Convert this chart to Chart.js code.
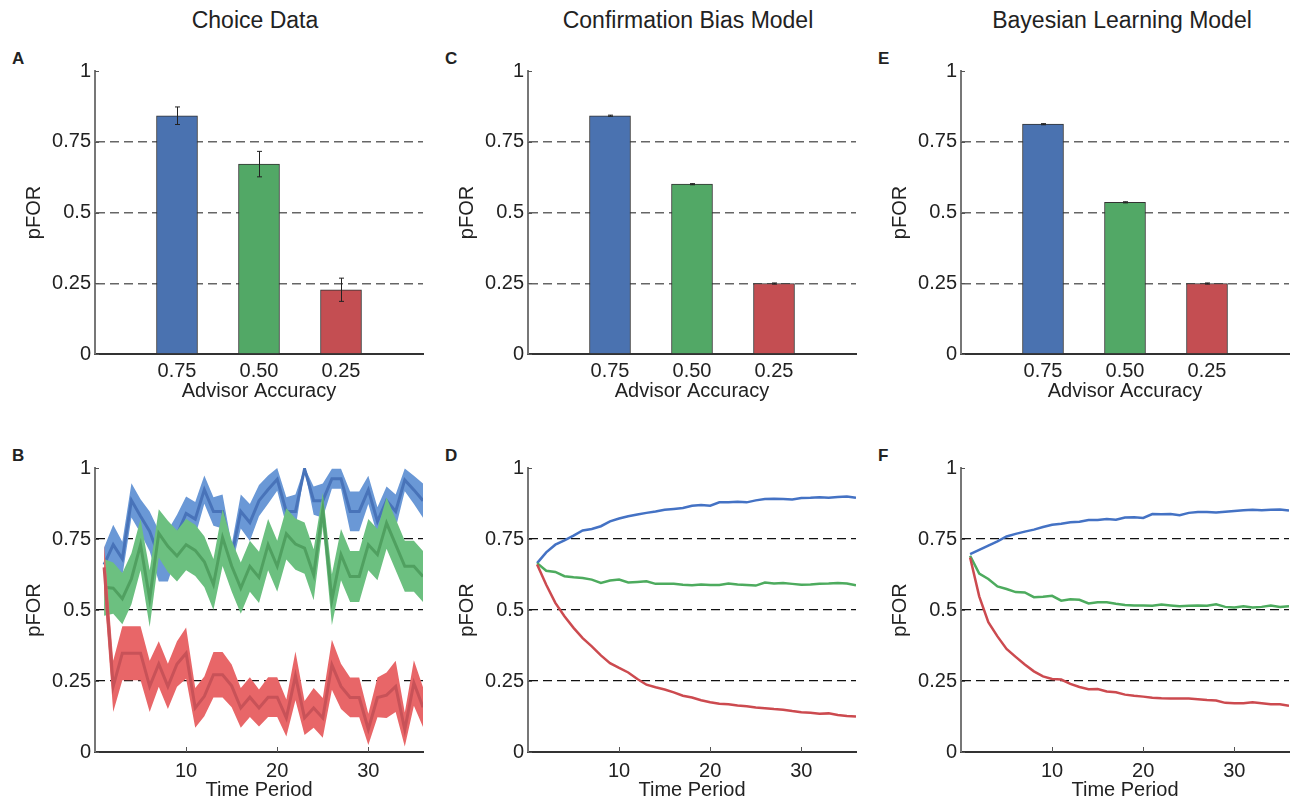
<!DOCTYPE html>
<html>
<head>
<meta charset="utf-8">
<script src="https://cdn.jsdelivr.net/npm/chart.js@4.4.1/dist/chart.umd.min.js"></script>
<style>
  body { margin: 0; background: #fff; width: 1297px; height: 801px; position: relative; overflow: hidden;
         font-family: "Liberation Sans", Arial, Helvetica, sans-serif; color: #222; }
  canvas { position: absolute; }
  .title { position: absolute; top: 7px; width: 360px; text-align: center; font-size: 23px; line-height: 26px; }
  .tag { position: absolute; font-size: 17px; font-weight: bold; line-height: 20px; }
</style>
</head>
<body>
<div class="title" style="left:75px">Choice Data</div>
<div class="title" style="left:508px">Confirmation Bias Model</div>
<div class="title" style="left:942px">Bayesian Learning Model</div>
<div class="tag" style="left:12px;top:49px">A</div>
<div class="tag" style="left:12px;top:446px">B</div>
<div class="tag" style="left:445px;top:49px">C</div>
<div class="tag" style="left:445px;top:446px">D</div>
<div class="tag" style="left:878px;top:49px">E</div>
<div class="tag" style="left:878px;top:446px">F</div>

<canvas id="pA" width="429" height="353"></canvas>
<canvas id="pC" width="429" height="353"></canvas>
<canvas id="pE" width="429" height="353"></canvas>
<canvas id="pB" width="429" height="354"></canvas>
<canvas id="pD" width="429" height="354"></canvas>
<canvas id="pF" width="429" height="354"></canvas>

<script>
// ---- data ----
const accuracyLabels = ['0.75', '0.50', '0.25'];
const choiceBars = [0.842, 0.671, 0.227];
const choiceErr = [0.031, 0.045, 0.041];
const confirmBars = [0.842, 0.600, 0.249];
const confirmErr = [0.002, 0.002, 0.002];
const bayesBars = [0.812, 0.536, 0.249];
const bayesErr = [0.002, 0.002, 0.002];

const yTickValues = [0, 0.25, 0.5, 0.75, 1];
const yTickLabels = ['0', '0.25', '0.5', '0.75', '1'];
const timeTicks = [10, 20, 30];

const periods = [1, 2, 3, 4, 5, 6, 7, 8, 9, 10, 11, 12, 13, 14, 15, 16, 17, 18,
                 19, 20, 21, 22, 23, 24, 25, 26, 27, 28, 29, 30, 31, 32, 33, 34, 35, 36];

// choice data over time: mean and s.e.m.
const choiceHigh = [0.66, 0.73, 0.68, 0.886, 0.83, 0.777, 0.69, 0.69, 0.765, 0.84, 0.82, 0.924,
                    0.847, 0.847, 0.69, 0.847, 0.808, 0.885, 0.924, 0.96, 0.847, 0.847, 0.997, 0.885,
                    0.885, 0.962, 0.962, 0.847, 0.847, 0.923, 0.812, 0.885, 0.847, 0.958, 0.923, 0.885];
const choiceHighSem = [0.06, 0.07, 0.06, 0.06, 0.06, 0.07, 0.09, 0.09, 0.07, 0.06, 0.06, 0.05,
                       0.05, 0.06, 0.04, 0.06, 0.065, 0.055, 0.05, 0.04, 0.05, 0.06, 0.005, 0.05,
                       0.06, 0.035, 0.035, 0.07, 0.07, 0.05, 0.05, 0.05, 0.06, 0.04, 0.05, 0.06];
const choiceMid = [0.58, 0.577, 0.54, 0.61, 0.73, 0.54, 0.77, 0.724, 0.69, 0.73, 0.71, 0.67,
                   0.59, 0.755, 0.655, 0.577, 0.654, 0.615, 0.73, 0.654, 0.768, 0.732, 0.718, 0.624,
                   0.853, 0.536, 0.695, 0.618, 0.618, 0.73, 0.695, 0.806, 0.73, 0.654, 0.654, 0.618];
const choiceMidSem = [0.1, 0.09, 0.09, 0.09, 0.09, 0.1, 0.085, 0.09, 0.09, 0.09, 0.09, 0.09,
                      0.09, 0.1, 0.09, 0.09, 0.09, 0.09, 0.09, 0.09, 0.09, 0.09, 0.09, 0.09,
                      0.06, 0.09, 0.09, 0.09, 0.09, 0.09, 0.09, 0.09, 0.09, 0.09, 0.09, 0.09];
const choiceLow = [0.65, 0.231, 0.348, 0.348, 0.348, 0.231, 0.31, 0.231, 0.31, 0.348, 0.155, 0.196,
                   0.272, 0.272, 0.233, 0.155, 0.193, 0.155, 0.193, 0.193, 0.12, 0.268, 0.12, 0.155,
                   0.12, 0.307, 0.231, 0.192, 0.192, 0.08, 0.192, 0.2, 0.231, 0.079, 0.243, 0.158];
const choiceLowSem = [0.08, 0.09, 0.095, 0.095, 0.095, 0.09, 0.08, 0.08, 0.08, 0.09, 0.07, 0.07,
                      0.08, 0.08, 0.075, 0.07, 0.07, 0.065, 0.07, 0.07, 0.065, 0.086, 0.06, 0.07,
                      0.07, 0.088, 0.08, 0.07, 0.07, 0.055, 0.07, 0.08, 0.09, 0.06, 0.08, 0.07];

// confirmation bias model
const confirmHigh = [0.665, 0.703, 0.73, 0.745, 0.762, 0.78, 0.785, 0.795, 0.812, 0.822, 0.83, 0.836,
                     0.842, 0.847, 0.853, 0.856, 0.859, 0.867, 0.87, 0.867, 0.879, 0.879, 0.881, 0.879,
                     0.886, 0.891, 0.892, 0.891, 0.889, 0.894, 0.895, 0.897, 0.895, 0.898, 0.9, 0.895];
const confirmMid = [0.665, 0.638, 0.634, 0.619, 0.615, 0.613, 0.607, 0.595, 0.604, 0.607, 0.597, 0.599,
                    0.601, 0.592, 0.592, 0.592, 0.589, 0.587, 0.59, 0.588, 0.588, 0.593, 0.59, 0.588,
                    0.586, 0.597, 0.593, 0.595, 0.592, 0.589, 0.59, 0.592, 0.593, 0.595, 0.593, 0.587];
const confirmLow = [0.66, 0.589, 0.525, 0.478, 0.437, 0.401, 0.372, 0.34, 0.313, 0.296, 0.28, 0.257,
                    0.237, 0.228, 0.22, 0.21, 0.198, 0.192, 0.182, 0.175, 0.17, 0.168, 0.164, 0.161,
                    0.157, 0.154, 0.151, 0.149, 0.144, 0.14, 0.138, 0.135, 0.136, 0.13, 0.127, 0.125];

// bayesian learning model
const bayesHigh = [0.697, 0.712, 0.727, 0.742, 0.759, 0.768, 0.776, 0.783, 0.792, 0.8, 0.804, 0.809,
                   0.811, 0.817, 0.817, 0.82, 0.818, 0.826, 0.827, 0.824, 0.838, 0.837, 0.838, 0.834,
                   0.842, 0.845, 0.845, 0.843, 0.846, 0.849, 0.851, 0.853, 0.851, 0.853, 0.854, 0.85];
const bayesMid = [0.691, 0.628, 0.609, 0.583, 0.574, 0.563, 0.562, 0.545, 0.547, 0.55, 0.533, 0.538,
                  0.536, 0.523, 0.527, 0.527, 0.522, 0.518, 0.516, 0.516, 0.515, 0.519, 0.516, 0.513,
                  0.515, 0.516, 0.515, 0.52, 0.511, 0.509, 0.513, 0.509, 0.511, 0.516, 0.511, 0.513];
const bayesLow = [0.685, 0.548, 0.457, 0.407, 0.363, 0.335, 0.308, 0.284, 0.266, 0.257, 0.255, 0.24,
                  0.229, 0.221, 0.222, 0.213, 0.21, 0.202, 0.198, 0.195, 0.191, 0.189, 0.188, 0.188,
                  0.188, 0.186, 0.183, 0.181, 0.173, 0.172, 0.172, 0.175, 0.172, 0.168, 0.168, 0.163];

// ---- styling ----
const FONT = '"Liberation Sans", Arial, Helvetica, sans-serif';
Chart.defaults.font.family = FONT;
Chart.defaults.color = '#222';

const barColors = ['#4A72B0', '#52A866', '#C44E52'];
const lineColors = { high: '#4472C4', mid: '#4DAB5E', low: '#CC4A4F' };
const bandColors = { high: 'rgb(106,152,214)', mid: 'rgb(108,192,128)', low: 'rgb(232,102,104)' };
const meanColors = { high: 'rgb(72,115,185)', mid: 'rgb(80,160,96)', low: 'rgb(200,82,88)' };

const colLeft = [95, 528, 961];
const plotW = 328;
const rows = { top: { y: 71, h: 283 }, bottom: { y: 468, h: 284 } };

// inward tick marks on the axes
const inwardTicks = {
  id: 'inwardTicks',
  afterDraw(chart, args, opts) {
    const { ctx, chartArea } = chart;
    ctx.save();
    ctx.strokeStyle = '#555';
    ctx.lineWidth = 1;
    const ys = chart.scales.y;
    ys.ticks.forEach(t => {
      const py = Math.round(ys.getPixelForValue(t.value)) + 0.5;
      ctx.beginPath();
      ctx.moveTo(chartArea.left, py);
      ctx.lineTo(chartArea.left + 4, py);
      ctx.stroke();
    });
    if (opts.x) {
      const xs = chart.scales.x;
      xs.ticks.forEach(t => {
        const px = Math.round(xs.getPixelForValue(t.value)) + 0.5;
        ctx.beginPath();
        ctx.moveTo(px, chartArea.bottom);
        ctx.lineTo(px, chartArea.bottom - 5);
        ctx.stroke();
      });
    }
    ctx.restore();
  }
};

// error bars on the bar panels
const errorBars = {
  id: 'errorBars',
  afterDatasetsDraw(chart, args, opts) {
    if (!opts.values) return;
    const ys = chart.scales.y;
    const meta = chart.getDatasetMeta(0);
    const data = chart.data.datasets[0].data;
    const ctx = chart.ctx;
    ctx.save();
    ctx.strokeStyle = '#222';
    ctx.lineWidth = 1;
    meta.data.forEach((bar, i) => {
      const e = opts.values[i];
      if (e == null || data[i] == null) return;
      const x = Math.round(bar.x) + 0.5;
      const y1 = ys.getPixelForValue(data[i] + e);
      const y2 = ys.getPixelForValue(data[i] - e);
      ctx.beginPath();
      ctx.moveTo(x, y1); ctx.lineTo(x, y2);
      ctx.moveTo(x - 2.5, y1); ctx.lineTo(x + 2.5, y1);
      ctx.moveTo(x - 2.5, y2); ctx.lineTo(x + 2.5, y2);
      ctx.stroke();
    });
    ctx.restore();
  }
};

function yScale(gridColor, gridWidth, borderColor) {
  return {
    min: 0, max: 1, z: 1,
    afterFit: s => { s.width = 95; },
    afterBuildTicks: s => { s.ticks = yTickValues.map(v => ({ value: v })); },
    ticks: {
      callback: v => yTickLabels[yTickValues.indexOf(v)],
      font: { size: 20 }, color: '#222', padding: 4
    },
    grid: {
      drawTicks: false,
      color: c => (c.tick && c.tick.value > 0 && c.tick.value < 1) ? gridColor : 'rgba(0,0,0,0)',
      lineWidth: gridWidth
    },
    border: { color: borderColor, width: 2, dash: [9, 5] },
    title: { display: true, text: 'pFOR', font: { size: 20 }, color: '#222', padding: { top: 22, bottom: 0 } }
  };
}

function place(id, col, row) {
  const el = document.getElementById(id);
  el.style.left = (colLeft[col] - 95) + 'px';
  el.style.top = (rows[row].y - 20) + 'px';
  el.width = 95 + plotW + 6;
  el.height = 20 + rows[row].h + 50;
  return el;
}

function barPanel(id, col, values, errs) {
  const el = place(id, col, 'top');
  new Chart(el, {
    type: 'bar',
    data: {
      labels: ['', ...accuracyLabels, ''],
      datasets: [{
        data: [null, ...values, null],
        backgroundColor: ['rgba(0,0,0,0)', ...barColors, 'rgba(0,0,0,0)'],
        borderColor: '#333',
        borderWidth: 1,
        barThickness: 41
      }]
    },
    options: {
      responsive: false, animation: false, devicePixelRatio: 1,
      layout: { padding: { top: 20, right: 6, left: 0, bottom: 0 } },
      plugins: { legend: { display: false }, tooltip: { enabled: false },
                 errorBars: { values: [null, ...errs, null] }, inwardTicks: { x: false } },
      scales: {
        x: {
          type: 'category', offset: false,
          afterFit: s => { s.height = 50; },
          grid: { display: false, drawTicks: false },
          border: { color: '#333', width: 2 },
          ticks: { font: { size: 20 }, color: '#222', padding: 5, autoSkip: false, maxRotation: 0 },
          title: { display: true, text: 'Advisor Accuracy', font: { size: 20 }, color: '#222', padding: { top: 0, bottom: 1 } }
        },
        y: yScale('#666', 1.5, '#777')
      }
    },
    plugins: [errorBars, inwardTicks]
  });
}

function pts(arr, shift) {
  return periods.map((t, i) => ({ x: t, y: arr[i] + (shift ? shift[i] : 0) }));
}

function timeOptions() {
  return {
    responsive: false, animation: false, devicePixelRatio: 1,
    layout: { padding: { top: 20, right: 6, left: 0, bottom: 0 } },
    elements: { point: { radius: 0 }, line: { tension: 0 } },
    plugins: { legend: { display: false }, tooltip: { enabled: false }, inwardTicks: { x: true } },
    scales: {
      x: {
        type: 'linear', min: 0, max: 36,
        afterFit: s => { s.height = 50; },
        afterBuildTicks: s => { s.ticks = timeTicks.map(v => ({ value: v })); },
        grid: { display: false, drawTicks: false },
        border: { color: '#333', width: 2 },
        ticks: { font: { size: 20 }, color: '#222', padding: 7 },
        title: { display: true, text: 'Time Period', font: { size: 20 }, color: '#222', padding: { top: 0, bottom: 0 } }
      },
      y: yScale('#111', 1.2, '#777')
    }
  };
}

function choicePanel(id, col) {
  const el = place(id, col, 'bottom');
  const groups = [
    ['high', choiceHigh, choiceHighSem],
    ['mid', choiceMid, choiceMidSem],
    ['low', choiceLow, choiceLowSem]
  ];
  const datasets = [];
  groups.forEach(([key, mean, sem]) => {
    datasets.push({ data: pts(mean, sem), borderColor: 'rgba(0,0,0,0)', borderWidth: 0,
                    backgroundColor: bandColors[key], fill: '+1' });
    datasets.push({ data: pts(mean, sem.map(s => -s)), borderColor: 'rgba(0,0,0,0)', borderWidth: 0, fill: false });
    datasets.push({ data: pts(mean), borderColor: meanColors[key], borderWidth: 3, fill: false });
  });
  datasets.forEach((d, i) => { d.order = datasets.length - i; });
  new Chart(el, { type: 'line', data: { datasets }, options: timeOptions(), plugins: [inwardTicks] });
}

function modelPanel(id, col, high, mid, low) {
  const el = place(id, col, 'bottom');
  const datasets = [
    { data: pts(high), borderColor: lineColors.high, borderWidth: 2.5, fill: false, order: 3 },
    { data: pts(mid), borderColor: lineColors.mid, borderWidth: 2.5, fill: false, order: 2 },
    { data: pts(low), borderColor: lineColors.low, borderWidth: 2.5, fill: false, order: 1 }
  ];
  new Chart(el, { type: 'line', data: { datasets }, options: timeOptions(), plugins: [inwardTicks] });
}

barPanel('pA', 0, choiceBars, choiceErr);
barPanel('pC', 1, confirmBars, confirmErr);
barPanel('pE', 2, bayesBars, bayesErr);
choicePanel('pB', 0);
modelPanel('pD', 1, confirmHigh, confirmMid, confirmLow);
modelPanel('pF', 2, bayesHigh, bayesMid, bayesLow);
</script>
</body>
</html>
